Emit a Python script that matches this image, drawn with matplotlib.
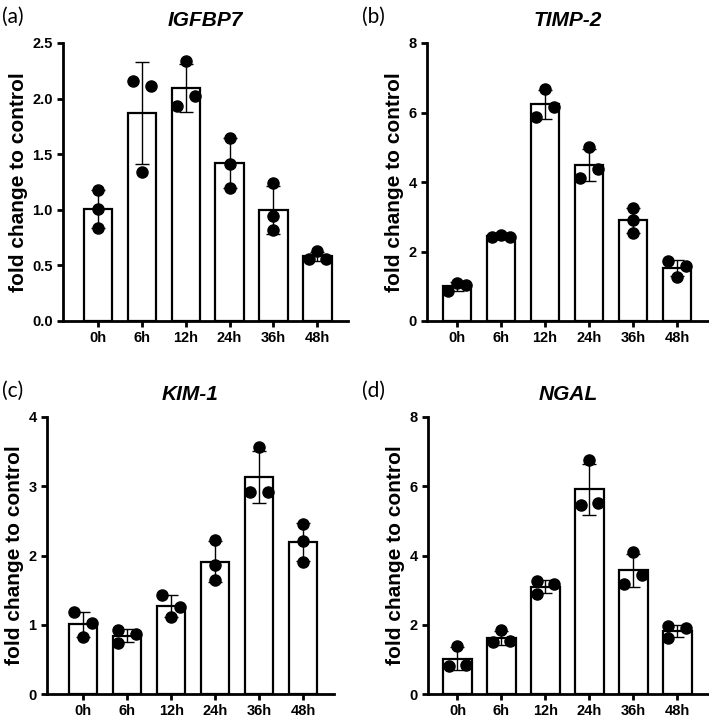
import numpy as np
import matplotlib
matplotlib.use("Agg")
import matplotlib.pyplot as plt

plt.rcParams['font.family'] = ['Liberation Sans', 'DejaVu Sans']

times = ['0h', '6h', '12h', '24h', '36h', '48h']

# replicate values (3 per time point)
igfbp7 = [[1.18, 1.01, 0.84], [2.16, 2.11, 1.34], [2.34, 1.93, 2.02],
          [1.65, 1.41, 1.20], [1.24, 0.94, 0.82], [0.63, 0.555, 0.56]]
timp2 = [[0.85, 1.10, 1.04], [2.41, 2.48, 2.41], [6.68, 5.87, 6.16],
         [5.00, 4.11, 4.37], [3.25, 2.91, 2.53], [1.73, 1.57, 1.26]]
kim1 = [[1.18, 1.02, 0.82], [0.92, 0.86, 0.74], [1.43, 1.26, 1.11],
        [2.23, 1.86, 1.65], [3.56, 2.91, 2.91], [2.46, 2.21, 1.91]]
ngal = [[1.40, 0.82, 0.85], [1.84, 1.50, 1.52], [3.25, 3.18, 2.88],
        [6.77, 5.47, 5.52], [4.09, 3.43, 3.19], [1.95, 1.90, 1.63]]

# horizontal scatter of the dots (in units of one dot step)
jit_a = [[0, 0, 0], [-1, 1, 0], [0, -1, 1], [0, 0, 0], [0, 0, 0], [0, -1, 1]]
jit_b = [[-1, 0, 1], [-1, 0, 1], [0, -1, 1], [0, -1, 1], [0, 0, 0], [-1, 1, 0]]
jit_c = [[-1, 1, 0], [-1, 1, -1], [-1, 1, 0], [0, 0, 0], [0, -1, 1], [0, 0, 0]]
jit_d = [[0, -1, 1], [0, -1, 1], [-1, 1, -1], [0, -1, 1], [0, 1, -1], [-1, 1, -1]]

W, H = 709, 722
fig = plt.figure(figsize=(W / 100, H / 100), dpi=100)

panels = [
    # label, title, data, jitter, ticks, ticklabels, axis px (left, right, top, bottom), xlim left
    ('(a)', 'IGFBP7', igfbp7, jit_a, [0, 0.5, 1.0, 1.5, 2.0, 2.5], ['0.0', '0.5', '1.0', '1.5', '2.0', '2.5'],
     (63, 348, 43, 321), -0.80),
    ('(b)', 'TIMP-2', timp2, jit_b, [0, 2, 4, 6, 8], ['0', '2', '4', '6', '8'],
     (427, 708, 43, 321), -0.68),
    ('(c)', 'KIM-1', kim1, jit_c, [0, 1, 2, 3, 4], ['0', '1', '2', '3', '4'],
     (47, 334, 417, 694), -0.82),
    ('(d)', 'NGAL', ngal, jit_d, [0, 2, 4, 6, 8], ['0', '2', '4', '6', '8'],
     (428, 708, 417, 694), -0.67),
]

x = np.arange(len(times))
for lab, title, vals, jit, yt, ytl, (l, r, t, b), xl in panels:
    ax = fig.add_axes([l / W, 1 - b / H, (r - l) / W, (b - t) / H])
    vals = np.array(vals)
    mean = vals.mean(axis=1)
    sd = vals.std(axis=1, ddof=1)
    ax.bar(x, mean, width=0.65, color='white', edgecolor='black', linewidth=1.6, zorder=2)
    ax.errorbar(x, mean, yerr=sd, fmt='none', ecolor='black', elinewidth=1.0,
                capsize=5, capthick=1.0, zorder=3)
    for i in range(len(times)):
        ax.plot(x[i] + 0.2 * np.array(jit[i]), vals[i], 'o', color='black',
                markersize=8, zorder=4, clip_on=False)
    ax.set_xlim(xl, 5.7)
    ax.set_ylim(0, yt[-1])
    ax.set_yticks(yt)
    ax.set_yticklabels(ytl, fontsize=10.5, fontweight='bold')
    ax.set_xticks(x)
    ax.set_xticklabels(times, fontsize=10.5, fontweight='bold')
    for s in ['top', 'right']:
        ax.spines[s].set_visible(False)
    for s in ['left', 'bottom']:
        ax.spines[s].set_linewidth(2)
    ax.tick_params(axis='both', width=2, length=4.5, pad=3)
    ax.set_ylabel('fold change to control', fontsize=15, fontweight='bold', labelpad=3)
    ax.set_title(title, fontsize=15, fontweight='bold', style='italic', pad=12)
    lx = 2 if l < 200 else 362
    fig.text(lx / W, 1 - (t - 26) / H, lab, fontsize=15, family=['Lato', 'DejaVu Sans'],
             ha='left', va='center')

fig.savefig('out.png', dpi=100)
